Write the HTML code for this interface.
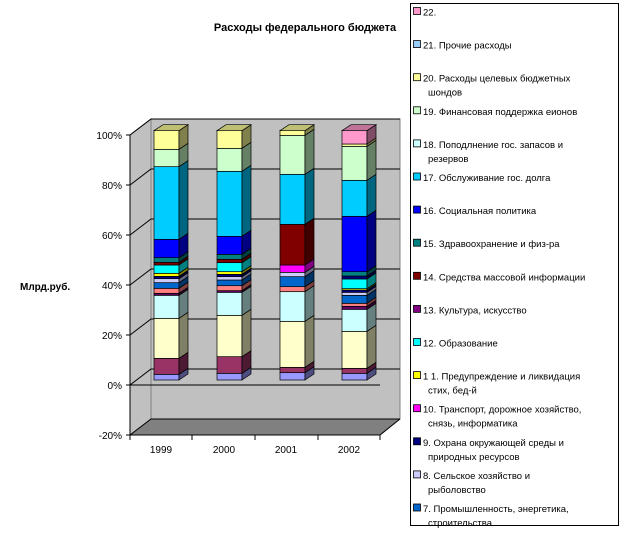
<!DOCTYPE html>
<html><head><meta charset="utf-8"><style>
body{margin:0;background:#fff;width:629px;height:538px;overflow:hidden;font-family:"Liberation Sans",Arial,sans-serif}
svg text{font-family:"Liberation Sans",Arial,sans-serif}
</style></head><body>
<svg id="s" width="629" height="538" xmlns="http://www.w3.org/2000/svg">
<text x="305" y="31" font-size="11" font-weight="bold" text-anchor="middle">Расходы федерального бюджета</text>
<text x="20" y="290" font-size="10" font-weight="bold">Млрд.руб.</text>
<polygon points="151,119 400,119 400,419 151,419" fill="#c0c0c0" stroke="#808080"/>
<polygon points="130,135 151,119 151,419 130,435" fill="#c0c0c0" stroke="#808080"/>
<polygon points="130,435 151,419 400,419 380,435" fill="#808080"/>
<polyline points="380,435 400,419" stroke="#000" fill="none"/>
<g id="grid" stroke="#000" stroke-width="1"></g>
<line x1="130" y1="135" x2="130" y2="435" stroke="#000"/>
<line x1="130" y1="435" x2="380" y2="435" stroke="#000"/>
<line x1="130" y1="385" x2="380" y2="385" stroke="#000"/>
<g id="ax" font-size="10" text-anchor="end"></g>
<g id="bars" stroke="#000" stroke-width="0.7"></g>
<g font-size="10" text-anchor="middle">
<text x="161" y="453">1999</text><text x="224" y="453">2000</text><text x="286" y="453">2001</text><text x="349" y="453">2002</text>
</g>
<rect x="410.5" y="3.5" width="208" height="522" fill="#fff" stroke="#000"/>
<g id="leg" font-size="9.5"></g>
</svg>
<script>
var NS="http://www.w3.org/2000/svg";
function el(p,t,a,txt){var e=document.createElementNS(NS,t);for(var k in a)e.setAttribute(k,a[k]);if(txt)e.textContent=txt;document.getElementById(p).appendChild(e);return e;}
for(var i=0;i<=6;i++){var y=135+i*50;var pct=100-i*20;
 el('grid','polyline',{points:(126)+','+y+' 130,'+y+' 151,'+(y-16)+' 400,'+(y-16),fill:'none'});
 el('ax','text',{x:122,y:y+4},pct+'%');}
for(var x of [130,192,255,318,380])el('grid','line',{x1:x,y1:435,x2:x,y2:440});
function dk(c,f){var n=parseInt(c.slice(1),16);var r=(n>>16)&255,g=(n>>8)&255,b=n&255;return 'rgb('+Math.round(r*f)+','+Math.round(g*f)+','+Math.round(b*f)+')';}
var data=[
[154,[[810,'#9999FF'],[793,'#993366'],[745,'#FFFFCC'],[625,'#CCFFFF'],[556,'#660066'],[550,'#FF8080'],[535,'#0066CC'],[518,'#CCCCFF'],[506,'#000080'],[499,'#FFFF00'],[490,'#00FFFF'],[465,'#800000'],[457,'#008080'],[443,'#0000FF'],[388,'#00CCFF'],[170,'#CCFFCC'],[118,'#FFFF99'],[62,null]]],
[217,[[810,'#9999FF'],[790,'#993366'],[740,'#FFFFCC'],[616,'#CCFFFF'],[547,'#660066'],[542,'#FF8080'],[527,'#0066CC'],[510,'#CCCCFF'],[500,'#000080'],[493,'#FFFF00'],[485,'#00FFFF'],[458,'#800000'],[448,'#008080'],[433,'#0000FF'],[379,'#00CCFF'],[184,'#CCFFCC'],[115,'#FFFF99'],[62,null]]],
[280,[[810,'#9999FF'],[788,'#993366'],[772,'#FFFFCC'],[634,'#CCFFFF'],[545,'#FF8080'],[530,'#0066CC'],[500,'#CCCCFF'],[487,'#FF00FF'],[465,'#800000'],[343,'#00CCFF'],[193,'#CCFFCC'],[76,'#FFFF99'],[62,null]]],
[342,[[810,'#9999FF'],[790,'#993366'],[775,'#FFFFCC'],[664,'#CCFFFF'],[598,'#660066'],[589,'#FF8080'],[580,'#0066CC'],[556,'#CCCCFF'],[547,'#000080'],[540,'#FFFF00'],[536,'#00FFFF'],[507,'#000080'],[498,'#008080'],[485,'#0000FF'],[319,'#00CCFF'],[211,'#CCFFCC'],[109,'#FFFF99'],[102,'#FF99CC'],[62,null]]]];
var W=25,DX=9,DY=-6;
data.forEach(function(b){var x=b[0],s=b[1];
 for(var i=0;i<s.length-1;i++){var y1=110+s[i][0]/3,y2=110+s[i+1][0]/3,c=s[i][1];
  el('bars','rect',{x:x,y:y2,width:W,height:y1-y2,fill:c});
  el('bars','polygon',{points:(x+W)+','+y1+' '+(x+W+DX)+','+(y1+DY)+' '+(x+W+DX)+','+(y2+DY)+' '+(x+W)+','+y2,fill:dk(c,0.5)});
  if(i==s.length-2)el('bars','polygon',{points:x+','+y2+' '+(x+DX)+','+(y2+DY)+' '+(x+W+DX)+','+(y2+DY)+' '+(x+W)+','+y2,fill:dk(c,0.75)});
 }});
var leg=[['#FF99CC',['22.']],['#99CCFF',['21. Прочие расходы']],['#FFFF99',['20. Расходы целевых бюджетных','шондов']],['#CCFFCC',['19. Финансовая поддержка еионов']],['#CCFFFF',['18. Поподлнение гос. запасов и','резервов']],['#00CCFF',['17. Обслуживание гос. долга']],['#0000FF',['16. Социальная политика']],['#008080',['15. Здравоохранение и физ-ра']],['#800000',['14. Средства массовой информации']],['#800080',['13. Культура, искусство']],['#00FFFF',['12. Образование']],['#FFFF00',['1 1. Предупреждение и ликвидация','стих, бед-й']],['#FF00FF',['10. Транспорт, дорожное хозяйство,','снязь, информатика']],['#000080',['9. Охрана окружающей среды и','природных ресурсов']],['#CCCCFF',['8. Сельское хозяйство и','рыболовство']],['#0066CC',['7. Промышленность, энергетика,','строительства']]];
leg.forEach(function(l,i){var y=12+i*33.1;
 el('leg','rect',{x:413.5,y:y-4.5,width:7,height:7,fill:l[0],stroke:'#000','stroke-width':0.8});
 l[1].forEach(function(t,j){el('leg','text',{x:j?428:423,y:y+3.5+j*14},t);});});
</script>
</body></html>
